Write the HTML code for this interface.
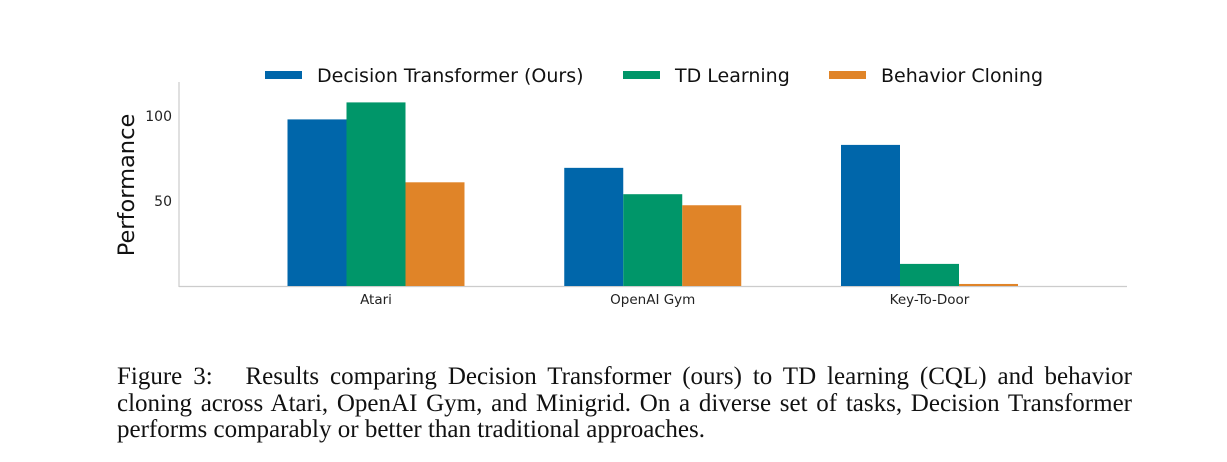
<!DOCTYPE html>
<html><head><meta charset="utf-8"><style>
body{margin:0;background:#fff;width:1227px;height:462px;overflow:hidden;position:relative}
svg text{font-family:"DejaVu Sans","Liberation Sans",sans-serif}
#cap{position:absolute;left:117px;top:364px;width:1015px;font-family:"Liberation Serif",serif;font-size:25px;line-height:26.5px;color:#111}
#cap div{text-align:justify;text-align-last:justify;white-space:nowrap}
#cap div.last{text-align-last:left}
</style></head><body>
<svg id="chart" width="1227" height="350" style="position:absolute;left:0;top:0"></svg>
<div id="cap">
<div>Figure 3:&nbsp;&nbsp; Results comparing Decision Transformer (ours) to TD learning (CQL) and behavior</div>
<div>cloning across Atari, OpenAI Gym, and Minigrid. On a diverse set of tasks, Decision Transformer</div>
<div class="last">performs comparably or better than traditional approaches.</div>
</div>
<script>
const categories=["Atari","OpenAI Gym","Key-To-Door"];
const seriesNames=["Decision Transformer (Ours)","TD Learning","Behavior Cloning"];
const dtValues=[98,69.5,83];
const tdValues=[108,54,13];
const bcValues=[61,47.5,1.2];
const yTicks=[50,100];
const colors=["#0066aa","#009669","#e08428"];
const svg=document.getElementById('chart');
const NS="http://www.w3.org/2000/svg";
function mk(t,a){const e=document.createElementNS(NS,t);for(const k in a)e.setAttribute(k,a[k]);svg.appendChild(e);return e;}
const y0=286,pxPer=1.7;
const y=v=>y0-v*pxPer;
const x=i=>376+i*276.75;
const bw=59;
const ax=mk('line',{x1:179,y1:82,x2:179,y2:287,stroke:'#ccc','stroke-width':1.2});

const bx=mk('line',{x1:179,y1:286.5,x2:1127,y2:286.5,stroke:'#ccc','stroke-width':1.2});

yTicks.forEach(t=>{const e=mk('text',{x:172,y:y(t)+5,'text-anchor':'end','font-size':14,fill:'#222'});e.textContent=t;
});
const yt=mk('text',{x:134,y:185,'text-anchor':'middle','font-size':22.5,fill:'#111',transform:'rotate(-90 134 185)'});yt.textContent='Performance';

const all=[dtValues,tdValues,bcValues];
categories.forEach((c,i)=>{
 all.forEach((vals,s)=>{const bx0=x(i)-1.5*bw+s*bw;
  const r=mk('rect',{x:bx0,y:y(vals[i]),width:bw,height:vals[i]*pxPer,fill:colors[s]});
  });
 const t=mk('text',{x:x(i),y:304,'text-anchor':'middle','font-size':13.5,fill:'#222'});t.textContent=c;
 
});
const lx=[265,623,829];
seriesNames.forEach((n,s)=>{
 const r=mk('rect',{x:lx[s],y:71,width:37,height:8,fill:colors[s]});
 
 const t=mk('text',{x:lx[s]+52,y:82,'font-size':19,fill:'#111'});t.textContent=n;
 
});
</script>
</body></html>
